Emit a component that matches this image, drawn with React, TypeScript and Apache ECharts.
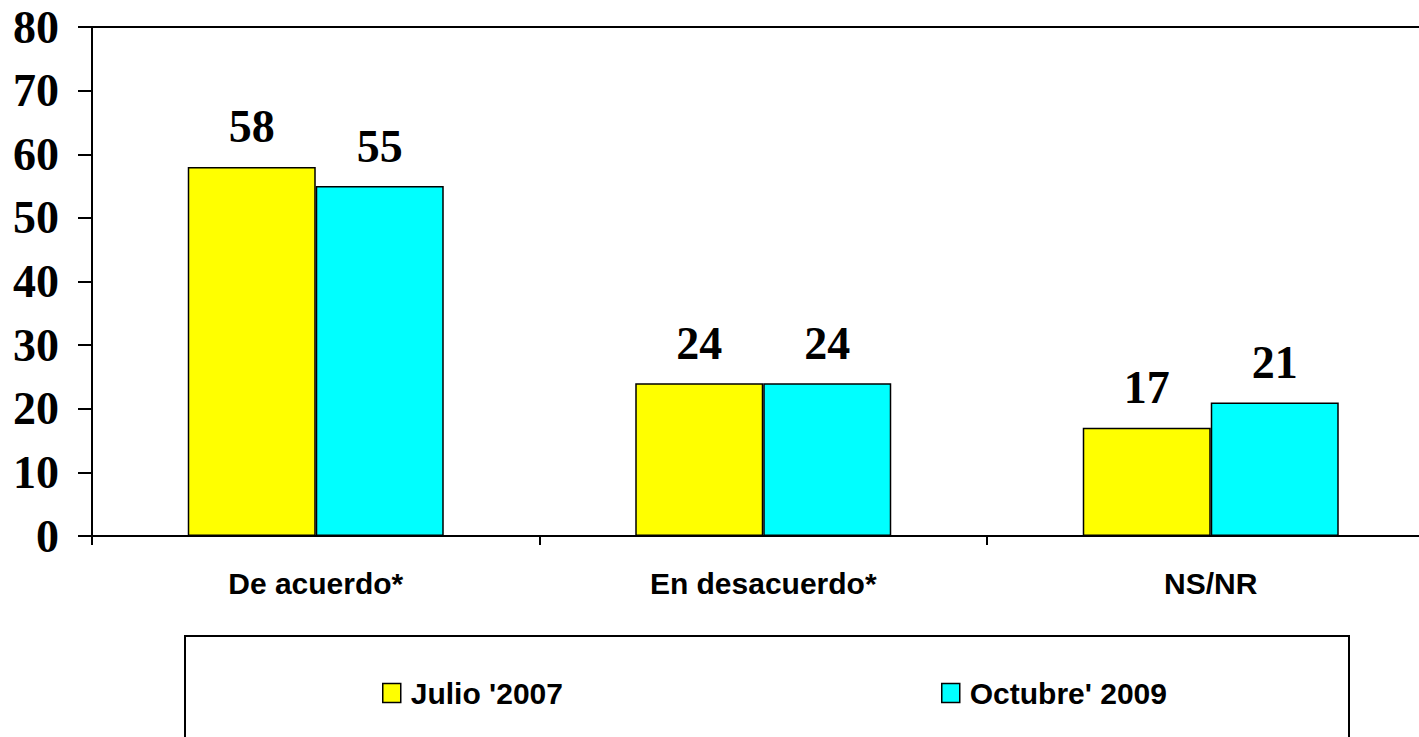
import React, { useEffect, useRef } from "react";
import * as echarts from "echarts";

const categories = ["De acuerdo*", "En desacuerdo*", "NS/NR"];
const seriesNames = ["Julio '2007", "Octubre' 2009"];
const julio2007 = [58, 24, 17];
const octubre2009 = [55, 24, 21];
const yTicks = { min: 0, max: 80, interval: 10 };

export default function App() {
  const ref = useRef<HTMLDivElement>(null);
  useEffect(() => {
    const chart = echarts.init(ref.current!, undefined, { renderer: "svg" });
    const valueLabel = {
      show: true,
      position: "top",
      distance: 17,
      color: "#000",
      fontFamily: "Liberation Serif",
      fontWeight: "bold",
      fontSize: 46,
    };
    const legendText = {
      color: "#000",
      fontFamily: "Liberation Sans",
      fontWeight: "bold",
      fontSize: 30,
      padding: [0, 0, 0, 5],
    };
    chart.setOption({
      animation: false,
      backgroundColor: "#fff",
      grid: {
        left: 92,
        top: 27,
        bottom: 201,
        right: 0.5,
        show: true,
        borderColor: "#000",
        borderWidth: 2,
        backgroundColor: "transparent",
      },
      legend: [
        {
          data: [seriesNames[0]],
          left: 377,
          top: 673,
          icon: "rect",
          itemWidth: 18,
          itemHeight: 19,
          itemStyle: { borderColor: "#000", borderWidth: 1.5 },
          textStyle: legendText,
        },
        {
          data: [seriesNames[1]],
          left: 936,
          top: 673,
          icon: "rect",
          itemWidth: 18,
          itemHeight: 19,
          itemStyle: { borderColor: "#000", borderWidth: 1.5 },
          textStyle: legendText,
        },
      ],
      graphic: [
        {
          type: "rect",
          shape: { x: 185, y: 636, width: 1164, height: 200 },
          style: { fill: "none", stroke: "#000", lineWidth: 2 },
          z: -1,
        },
      ],
      xAxis: {
        type: "category",
        data: categories,
        axisLine: { show: true, lineStyle: { color: "#000", width: 2 } },
        axisTick: { show: true, length: 9, alignWithLabel: false, interval: 0, lineStyle: { color: "#000", width: 2 } },
        axisLabel: {
          color: "#000",
          fontFamily: "Liberation Sans",
          fontWeight: "bold",
          fontSize: 30,
          margin: 32,
          interval: 0,
        },
        splitLine: { show: false },
      },
      yAxis: {
        type: "value",
        min: yTicks.min,
        max: yTicks.max,
        interval: yTicks.interval,
        axisLine: { show: true, lineStyle: { color: "#000", width: 2 } },
        axisTick: { show: true, length: 14, lineStyle: { color: "#000", width: 2 } },
        axisLabel: {
          color: "#000",
          fontFamily: "Liberation Serif",
          fontWeight: "bold",
          fontSize: 46,
          margin: 33,
        },
        splitLine: { show: false },
      },
      series: [
        {
          name: seriesNames[0],
          type: "bar",
          data: julio2007,
          barWidth: 128,
          barGap: "0%",
          itemStyle: { color: "#FFFF00", borderColor: "#000", borderWidth: 1.5 },
          label: valueLabel,
        },
        {
          name: seriesNames[1],
          type: "bar",
          data: octubre2009,
          barWidth: 128,
          barGap: "0%",
          itemStyle: { color: "#00FFFF", borderColor: "#000", borderWidth: 1.5 },
          label: valueLabel,
        },
      ],
    });
    return () => chart.dispose();
  }, []);
  return (
    <div
      ref={ref}
      style={{ position: "fixed", left: 0, top: 0, width: 1435, height: 737 }}
    />
  );
}
